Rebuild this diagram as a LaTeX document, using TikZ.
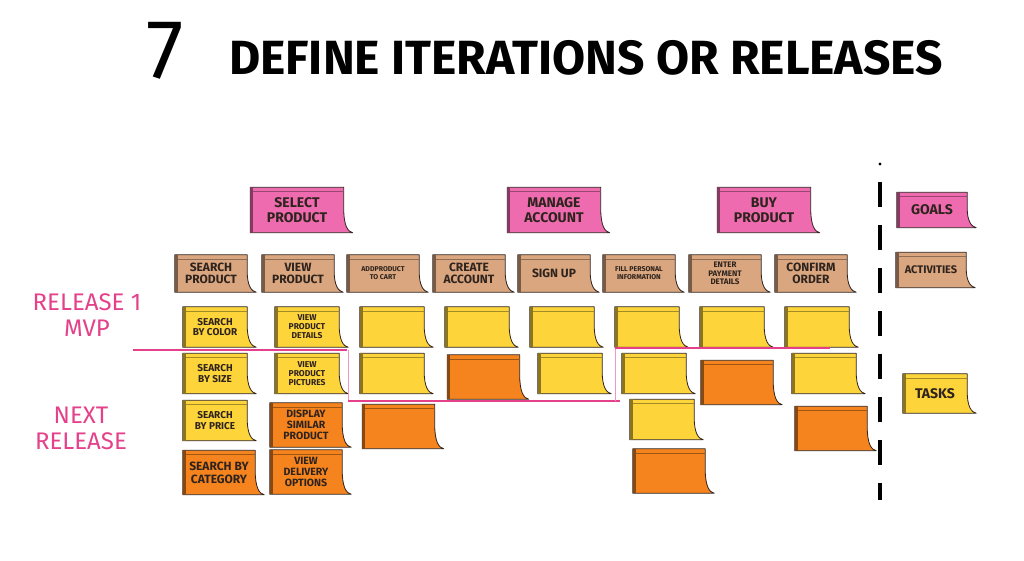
\documentclass[tikz,border=0pt]{standalone}
\usepackage{fontspec}
\setmainfont{Fira Sans}
\usetikzlibrary{calc,backgrounds}
\definecolor{notePink}{HTML}{EF6BB0}
\definecolor{noteTan}{HTML}{D9A67F}
\definecolor{noteYellow}{HTML}{FDD43A}
\definecolor{noteOrange}{HTML}{F5841F}
\definecolor{inkDark}{HTML}{2E231D}
\definecolor{releasePink}{HTML}{E4418A}

\tikzset{
  note/.style={inner sep=1pt, align=center, text=inkDark},
  goalnote/.style={note, minimum width=93pt, minimum height=45pt, font=\fontsize{14}{15}\selectfont\bfseries},
  actnote/.style={note, minimum width=72pt, minimum height=37pt, font=\fontsize{12}{12.5}\selectfont\bfseries},
  tasknote/.style={note, minimum width=64pt, minimum height=40pt, font=\fontsize{10}{10.5}\selectfont\bfseries},
  latenote/.style={note, minimum width=72pt, minimum height=44pt, font=\fontsize{10.5}{11}\selectfont\bfseries},
  keynote/.style={note, minimum width=70pt, minimum height=35pt, font=\fontsize{14}{15}\selectfont\bfseries},
  tinytext/.style={font=\fontsize{7}{8}\selectfont\bfseries},
  releaselabel/.style={align=center, text=releasePink, font=\fontsize{24}{26}\selectfont},
  releaseline/.style={releasePink, line width=2.5pt},
  stepline/.style={releasePink!55, line width=0.5pt}
}

% sticky note drawn behind a named node, curl at bottom right
\newcommand\stickynote[2]{%
  \path[fill=#2, draw=inkDark, line width=0.8pt, line join=round]
    (#1.north west) -- (#1.north east)
    -- ($(#1.north east)!0.45!(#1.south east)$)
    .. controls ($(#1.south east)+(0,-7)$) and ($(#1.south east)+(4,-1)$) .. ($(#1.south east)+(9,0)$)
    -- (#1.south west) -- cycle;
  \fill[#2!55!black] (#1.north west) rectangle ($(#1.south west)+(3,0)$);
  \draw[#2!65!black, line width=0.6pt] ($(#1.north west)+(3,4)$) -- ($(#1.north east)+(0,4)$);
}

\begin{document}
\begin{tikzpicture}[x=1pt, y=-1pt]
    \useasboundingbox (0,0) rectangle (1024,560);

    % title
    \node[font=\fontsize{84}{84}\selectfont] (stepNum) at (165,51) {7};
    \node[font=\fontsize{48}{48}\selectfont\bfseries] (title) at (586,58) {DEFINE ITERATIONS OR RELEASES};

    % goals
    \node[goalnote] (selectProd) at (297,210) {SELECT\\PRODUCT};
    \node[goalnote] (manageAcc) at (554,210) {MANAGE\\ACCOUNT};
    \node[goalnote] (buyProd) at (764,210) {BUY\\PRODUCT};
    \node[keynote] (goalsKey) at (932,210) {GOALS};

    % activities
    \node[actnote] (searchProd) at (211,273.5) {SEARCH\\PRODUCT};
    \node[actnote] (viewProd) at (298,273.5) {VIEW\\PRODUCT};
    \node[actnote, tinytext] (addCart) at (383,273.5) {ADDPRODUCT\\TO CART};
    \node[actnote] (createAcc) at (469,273.5) {CREATE\\ACCOUNT};
    \node[actnote] (signUp) at (554,273.5) {SIGN UP};
    \node[actnote, tinytext] (fillInfo) at (639,273.5) {FILL PERSONAL\\INFORMATION};
    \node[actnote, font=\fontsize{8}{8.5}\selectfont\bfseries] (enterPay) at (725,273.5) {ENTER\\PAYMENT\\DETAILS};
    \node[actnote] (confirmOrd) at (811,273.5) {CONFIRM\\ORDER};
    \node[keynote, font=\fontsize{11}{12}\selectfont\bfseries] (activitiesKey) at (931,270) {ACTIVITIES};

    % tasks
    \node[tasknote] (byColor) at (215,327) {SEARCH\\BY COLOR};
    \node[tasknote, font=\fontsize{8.5}{9}\selectfont\bfseries] (prodDetails) at (307,327) {VIEW\\PRODUCT\\DETAILS};
    \foreach \x/\n in {392/t13, 477/t14, 562/t15, 647/t16, 732/t17, 817/t18}
        \node[tasknote] (\n) at (\x,327) {};
    \node[tasknote] (bySize) at (215,373.5) {SEARCH\\BY SIZE};
    \node[tasknote, font=\fontsize{8.5}{9}\selectfont\bfseries] (prodPictures) at (307,373.5) {VIEW\\PRODUCT\\PICTURES};
    \foreach \x/\n in {392/t23, 570/t25, 654/t26, 824/t28}
        \node[tasknote] (\n) at (\x,373.5) {};
    \node[latenote] (t24) at (483.5,377) {};
    \node[latenote] (t27) at (737,382.5) {};
    \node[tasknote] (byPrice) at (215,420.5) {SEARCH\\BY PRICE};
    \node[tasknote] (t36) at (662,419.5) {};
    \node[latenote] (similarProd) at (306,425) {DISPLAY\\SIMILAR\\PRODUCT};
    \node[latenote] (t33) at (398.5,426.5) {};
    \node[latenote] (t38) at (831,428.5) {};
    \node[latenote, font=\fontsize{12}{13}\selectfont\bfseries] (byCategory) at (219,472.5) {SEARCH BY\\CATEGORY};
    \node[latenote] (deliveryOpt) at (306,472) {VIEW\\DELIVERY\\OPTIONS};
    \node[latenote] (t46) at (669,471) {};
    \node[keynote, minimum width=64pt, minimum height=39pt] (tasksKey) at (935,393.5) {TASKS};

    % sticky paper behind the notes
    \begin{scope}[on background layer]
        \foreach \n in {selectProd, manageAcc, buyProd, goalsKey}
            \stickynote{\n}{notePink};
        \foreach \n in {searchProd, viewProd, addCart, createAcc, signUp, fillInfo, enterPay, confirmOrd, activitiesKey}
            \stickynote{\n}{noteTan};
        \foreach \n in {byColor, prodDetails, t13, t14, t15, t16, t17, t18, bySize, prodPictures, t23, t25, t26, t28, byPrice, t36, tasksKey}
            \stickynote{\n}{noteYellow};
        \foreach \n in {t24, t27, similarProd, t33, t38, byCategory, deliveryOpt, t46}
            \stickynote{\n}{noteOrange};
    \end{scope}

    % releases
    \node[releaselabel] (mvpLabel) at (87,315) {RELEASE 1\\MVP};
    \node[releaselabel] (nextLabel) at (81,428) {NEXT\\RELEASE};
    \draw[releaseline] (133,350) -- (347,350);
    \draw[stepline] (348,350) -- (348,401);
    \draw[releaseline] (348,401) -- (620,401);
    \draw[stepline] (615,401) -- (615,348);
    \draw[releaseline] (615,348) -- (830,348);

    % divider
    \fill (880,164) circle (1.6);
    \draw[line width=3.5pt, dash pattern=on 25pt off 18pt] (880,182) -- (880,500);
\end{tikzpicture}
\end{document}
